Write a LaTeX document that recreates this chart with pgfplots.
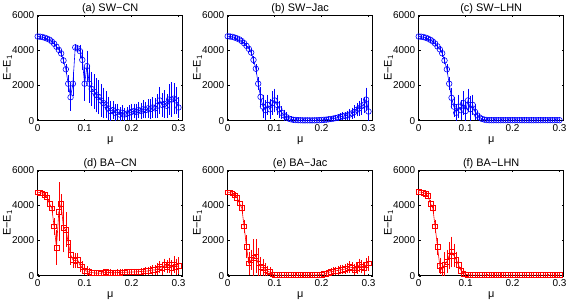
\documentclass[border=0pt]{standalone}
\usepackage{pgfplots}
\pgfplotsset{compat=1.18}
\usepackage{pgfplotstable}
\usepackage{fontspec}
\setmainfont{Liberation Sans}

% Energy gap E - E_1 versus mixing parameter mu (mean and spread over runs)
% a/b/c: SW networks (CN, Jac, LHN); d/e/f: BA networks (CN, Jac, LHN)
\pgfplotstableread{
mu a ea b eb c ec d ed e ee f ef
0.000 4780 40 4790 40 4780 40 4740 60 4740 60 4750 60
0.005 4770 40 4780 40 4770 40 4720 60 4730 60 4740 60
0.010 4750 50 4760 50 4750 50 4680 80 4680 80 4710 80
0.015 4710 50 4720 50 4710 50 4580 100 4560 100 4650 100
0.020 4660 60 4670 60 4660 60 4450 120 4430 120 4520 120
0.025 4600 60 4610 60 4590 60 4100 150 4110 150 4100 150
0.030 4500 70 4520 70 4500 70 3820 200 3850 200 3850 200
0.035 4370 80 4400 80 4380 80 2800 400 2800 300 2800 300
0.040 4200 90 4250 90 4220 90 1600 900 1650 600 1650 400
0.045 4020 100 4080 100 4050 100 3620 1600 700 600 550 400
0.050 3820 120 3870 120 3830 120 4060 500 900 500 320 300
0.055 3420 150 3450 150 3420 150 2700 1300 1000 1000 650 600
0.060 2920 200 2950 200 2920 200 2620 900 1100 900 800 600
0.065 2100 400 2100 300 2100 300 1900 700 700 800 1150 700
0.070 1330 700 1350 500 1300 500 1200 500 500 500 1350 800
0.075 2100 600 800 600 800 500 900 400 450 400 1150 600
0.080 4160 100 600 500 450 400 850 350 350 300 900 400
0.085 4100 150 900 500 800 600 900 300 250 250 600 300
0.090 3950 300 650 500 600 500 600 300 200 200 300 200
0.095 3450 500 1000 600 1000 600 500 250 80 100 130 100
0.100 2100 900 1150 600 550 500 300 200 40 60 80 60
0.105 3100 800 900 500 1150 600 250 200 30 40 50 40
0.110 2100 1000 650 400 650 700 200 150 30 30 40 30
0.115 1800 900 450 300 900 500 180 120 30 30 30 20
0.120 1650 900 300 250 500 400 160 100 30 30 30 20
0.125 1450 900 200 200 300 200 150 100 30 30 30 20
0.130 1350 900 120 150 180 150 150 100 30 30 30 20
0.135 1150 850 80 100 100 80 140 100 30 30 30 20
0.140 1000 800 50 60 60 50 180 100 30 30 30 20
0.145 900 700 40 40 40 30 200 100 30 30 30 20
0.150 700 600 30 30 30 20 180 100 30 30 30 20
0.155 550 500 25 20 30 20 180 100 30 30 30 20
0.160 600 450 20 20 30 20 170 100 30 30 30 20
0.165 450 400 20 20 30 20 170 100 30 30 30 20
0.170 500 400 20 20 30 20 180 100 30 30 30 20
0.175 350 350 20 20 30 20 180 100 30 30 30 20
0.180 450 350 20 20 30 20 190 100 30 30 30 20
0.185 350 300 20 20 30 20 190 100 35 30 30 20
0.190 400 300 25 20 30 20 200 100 40 30 30 20
0.195 450 350 30 20 30 20 200 100 50 40 30 20
0.200 500 400 40 30 30 20 210 100 70 50 30 20
0.205 550 350 50 30 30 20 210 100 90 60 30 20
0.210 500 400 60 40 30 20 220 100 120 80 30 20
0.215 600 400 80 50 30 20 230 100 180 100 30 20
0.220 550 400 100 60 30 20 240 120 230 120 30 20
0.225 650 450 120 70 30 20 250 120 250 150 30 20
0.230 600 400 150 90 30 20 260 150 280 150 30 20
0.235 700 450 180 100 30 20 270 150 300 180 30 20
0.240 650 500 220 120 30 20 300 150 330 180 30 20
0.245 750 500 250 150 30 20 330 200 350 200 30 20
0.250 700 500 280 150 30 20 320 200 380 200 30 20
0.255 850 600 300 200 30 20 380 250 420 220 30 20
0.260 1150 700 350 250 30 20 500 250 500 250 30 20
0.265 900 600 420 250 30 20 420 300 450 250 30 20
0.270 950 700 500 300 30 20 600 300 350 250 30 20
0.275 850 600 620 300 30 20 500 300 420 250 30 20
0.280 1200 800 700 350 30 20 600 350 600 300 30 20
0.285 1200 900 820 400 30 20 450 350 500 300 30 20
0.290 1250 800 900 400 30 20 650 400 420 300 30 20
0.295 1150 700 1200 600 30 20 500 400 620 300 30 20
0.300 750 500 520 500 30 20 570 400 700 350 30 20
}\energy

\pgfplotsset{
  panel/.style={
    scale only axis, width=145bp, height=105.7bp,
    xmin=0, xmax=0.309, ymin=0, ymax=6000,
    xtick={0,0.1,0.2,0.3}, ytick={0,2000,4000,6000},
    tick align=inside, major tick length=2bp,
    every tick/.style={black, line width=0.4pt},
    axis line style={line width=0.5pt},
    scaled ticks=false,
    /pgf/number format/assume math mode=true,
    /pgf/number format/1000 sep={},
    ticklabel style={font=\fontsize{10}{12}\selectfont},
    label style={font=\fontsize{11}{13}\selectfont},
    title style={font=\fontsize{11}{13}\selectfont, inner sep=1pt, yshift=-6pt},
    xlabel={μ}, ylabel={E−E\textsubscript{1}},
    xlabel shift=-1pt, ylabel shift=-7pt,
    anchor=south west,
  },
  sw/.style={blue, mark=o, mark size=2.8pt, line width=0.6pt,
    mark options={line width=0.6pt},
    error bars/.cd, y dir=both, y explicit,
    error bar style={line width=0.45pt},
    error mark options={mark size=1.3pt, line width=0.45pt}},
  ba/.style={red, mark=square, mark size=2.4pt, line width=0.6pt,
    mark options={line width=0.6pt},
    error bars/.cd, y dir=both, y explicit,
    error bar style={line width=0.45pt},
    error mark options={mark size=1.3pt, line width=0.45pt}},
}

\begin{document}
\begin{tikzpicture}
\useasboundingbox (0,0) rectangle (568bp,302bp);

\begin{axis}[panel, at={(37.7bp,181.3bp)}, title={(a) SW−CN}]
  \addplot[sw] table[x=mu, y=a, y error=ea] {\energy};
\end{axis}
\begin{axis}[panel, at={(227.7bp,181.3bp)}, title={(b) SW−Jac}]
  \addplot[sw] table[x=mu, y=b, y error=eb] {\energy};
\end{axis}
\begin{axis}[panel, at={(418.7bp,181.3bp)}, title={(c) SW−LHN}]
  \addplot[sw] table[x=mu, y=c, y error=ec] {\energy};
\end{axis}

\begin{axis}[panel, at={(37.7bp,26.3bp)}, title={(d) BA−CN}]
  \addplot[ba] table[x=mu, y=d, y error=ed] {\energy};
\end{axis}
\begin{axis}[panel, at={(227.7bp,26.3bp)}, title={(e) BA−Jac}]
  \addplot[ba] table[x=mu, y=e, y error=ee] {\energy};
\end{axis}
\begin{axis}[panel, at={(418.7bp,26.3bp)}, title={(f) BA−LHN}]
  \addplot[ba] table[x=mu, y=f, y error=ef] {\energy};
\end{axis}
\end{tikzpicture}
\end{document}
